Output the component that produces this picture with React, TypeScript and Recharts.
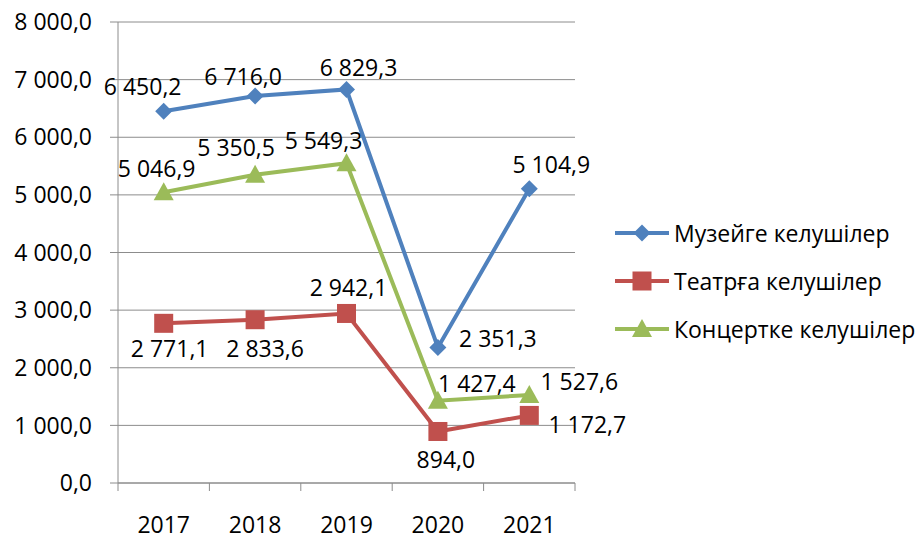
import React from 'react';
import { LineChart, Line, XAxis, YAxis, CartesianGrid, Legend, LabelList } from 'recharts';

const years = ['2017', '2018', '2019', '2020', '2021'];
const museum = [6450.2, 6716.0, 6829.3, 2351.3, 5104.9];
const theatre = [2771.1, 2833.6, 2942.1, 894.0, 1172.7];
const concert = [5046.9, 5350.5, 5549.3, 1427.4, 1527.6];
const yTicks = [0, 1000, 2000, 3000, 4000, 5000, 6000, 7000, 8000];
const seriesNames = ['Музейге келушілер', 'Театрға келушілер', 'Концертке келушілер'];

const COLORS = ['#4F81BD', '#C0504D', '#9BBB59'];
const FONT = "'Open Sans', sans-serif";
const FS = 23;
const GRID = '#8c8c8c';

// label offsets (style only)
const museumOff = [[-21, -25], [-12, -20], [12, -22], [60, -10], [22, -25]];
const theatreOff = [[6, 25], [10, 28], [2, -26], [8, 28], [58, 9]];
const concertOff = [[-7, -24], [-19, -28], [-23, -23], [39, -18], [50, -14]];

const data = years.map((y, i) => ({
  x: i + 0.5,
  year: y,
  museum: museum[i],
  theatre: theatre[i],
  concert: concert[i],
}));

const fmt = (v: number) => {
  const s = Number(v).toFixed(1);
  const [intPart, dec] = s.split('.');
  const withSp = intPart.replace(/\B(?=(\d{3})+(?!\d))/g, '\u00a0');
  return withSp + ',' + dec;
};

const W = 923;
const H = 540;
const M = { top: 22, right: 348, bottom: 0, left: 0 };
const YW = 118;
const XH = 57;
const plotW = W - M.left - M.right - YW;
const halfBand = plotW / years.length / 2;

const Marker = ({ kind, cx, cy, color }: any) => {
  if (cx == null || cy == null) return null;
  if (kind === 0) {
    const r = 8.5;
    return <polygon points={`${cx},${cy - r} ${cx + r},${cy} ${cx},${cy + r} ${cx - r},${cy}`} fill={color} />;
  }
  if (kind === 1) {
    const r = 9.5;
    return <rect x={cx - r} y={cy - r} width={2 * r} height={2 * r} fill={color} />;
  }
  return <polygon points={`${cx},${cy - 10} ${cx + 10},${cy + 8} ${cx - 10},${cy + 8}`} fill={color} />;
};

const makeDot = (kind: number) => (props: any) => (
  <Marker key={`d-${kind}-${props.index}`} kind={kind} cx={props.cx} cy={props.cy} color={COLORS[kind]} />
);

const makeLabel = (offs: number[][]) => (props: any) => {
  const { x, y, value, index } = props;
  const o = offs[index] || [0, -20];
  return (
    <text
      x={x + o[0]}
      y={y + o[1]}
      textAnchor="middle"
      dominantBaseline="central"
      fontFamily={FONT}
      fontSize={FS}
      fill="#000"
    >
      {fmt(value)}
    </text>
  );
};

const XTick = (props: any) => {
  const { x, y, payload } = props;
  const v = payload.value;
  if (v >= years.length) return <g />;
  return (
    <text
      x={x + halfBand}
      y={y + 31}
      textAnchor="middle"
      dominantBaseline="central"
      fontFamily={FONT}
      fontSize={FS}
      fill="#000"
    >
      {years[v]}
    </text>
  );
};

const LegendContent = () => (
  <svg width={311} height={140} style={{ display: 'block' }}>
    {seriesNames.map((n, i) => {
      const cy = 21 + i * 48;
      return (
        <g key={n}>
          <line x1={3} x2={57} y1={cy} y2={cy} stroke={COLORS[i]} strokeWidth={4} />
          <Marker kind={i} cx={30} cy={cy} color={COLORS[i]} />
          <text x={62} y={cy} dominantBaseline="central" fontFamily={FONT} fontSize={FS} fill="#000">
            {n}
          </text>
        </g>
      );
    })}
  </svg>
);

export default function App() {
  return (
    <div style={{ position: 'absolute', left: 0, top: 0, width: W, height: H, background: '#fff' }}>
      <LineChart width={W} height={H} data={data} margin={M}>
        <CartesianGrid vertical={false} stroke={GRID} strokeWidth={1} />
        <XAxis
          dataKey="x"
          type="number"
          domain={[0, years.length]}
          ticks={[0, 1, 2, 3, 4, 5]}
          interval={0}
          height={XH}
          tickSize={8}
          tick={<XTick />}
          axisLine={{ stroke: GRID }}
          tickLine={{ stroke: GRID }}
        />
        <YAxis
          width={YW}
          domain={[0, 8000]}
          ticks={yTicks}
          interval={0}
          tickSize={8}
          tickMargin={18}
          tickFormatter={fmt}
          tick={{ fontFamily: FONT, fontSize: FS, fill: '#000' }}
          axisLine={{ stroke: GRID }}
          tickLine={{ stroke: GRID }}
        />
        <Legend
          layout="vertical"
          align="center"
          verticalAlign="middle"
          wrapperStyle={{ left: 612, top: 212, width: 311 }}
          content={<LegendContent />}
        />
        <Line
          dataKey="theatre"
          name={seriesNames[1]}
          stroke={COLORS[1]}
          strokeWidth={4}
          dot={makeDot(1)}
          activeDot={false}
          isAnimationActive={false}
        >
          <LabelList dataKey="theatre" content={makeLabel(theatreOff)} />
        </Line>
        <Line
          dataKey="concert"
          name={seriesNames[2]}
          stroke={COLORS[2]}
          strokeWidth={4}
          dot={makeDot(2)}
          activeDot={false}
          isAnimationActive={false}
        >
          <LabelList dataKey="concert" content={makeLabel(concertOff)} />
        </Line>
        <Line
          dataKey="museum"
          name={seriesNames[0]}
          stroke={COLORS[0]}
          strokeWidth={4}
          dot={makeDot(0)}
          activeDot={false}
          isAnimationActive={false}
        >
          <LabelList dataKey="museum" content={makeLabel(museumOff)} />
        </Line>
      </LineChart>
    </div>
  );
}
